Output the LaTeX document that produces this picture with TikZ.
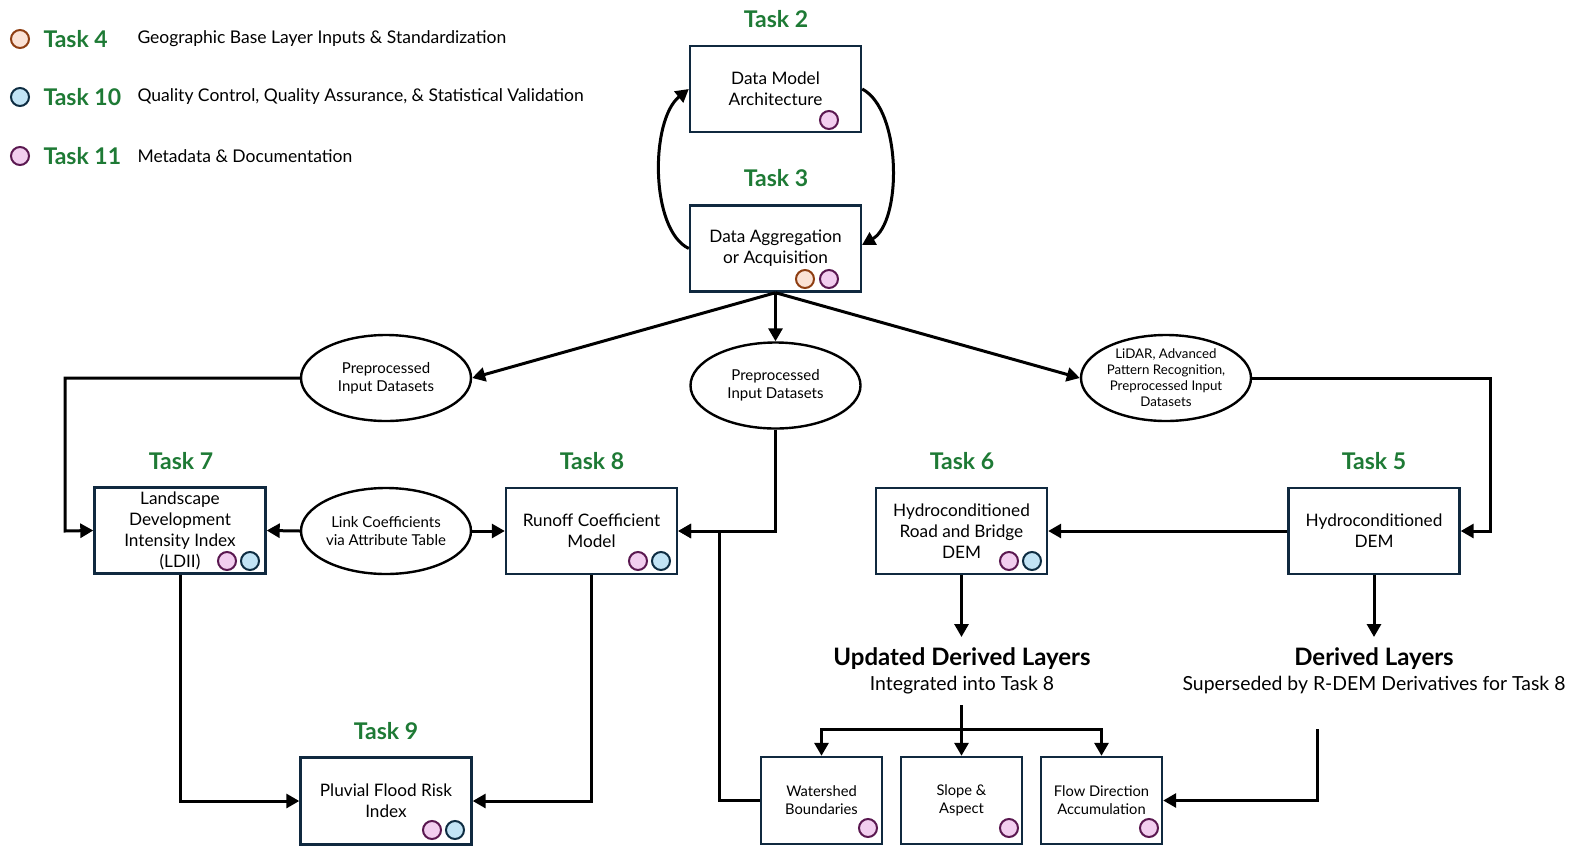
\documentclass[tikz,border=0pt]{standalone}
\usepackage{fontspec}
\setmainfont{Lato}
\usetikzlibrary{arrows.meta,shapes.geometric}
\definecolor{tgreen}{HTML}{1E7A35}
\definecolor{navy}{HTML}{10293F}
\definecolor{orfill}{HTML}{FBE2D5}
\definecolor{ordraw}{HTML}{8E3E12}
\definecolor{blfill}{HTML}{C2E4F5}
\definecolor{bldraw}{HTML}{0E2D42}
\definecolor{pufill}{HTML}{F2CEEF}
\definecolor{pudraw}{HTML}{5A1850}
\tikzset{
  box/.style={draw=navy, line width=2.4pt, minimum width=171pt, minimum height=86pt, align=center, font=\fontsize{17.2}{21}\selectfont, inner sep=2pt},
  sbox/.style={draw=navy, line width=2.4pt, minimum width=121pt, minimum height=87pt, align=center, font=\fontsize{14.7}{18}\selectfont, inner sep=2pt},
  ell/.style={ellipse, draw=black, line width=2.4pt, minimum width=170pt, minimum height=86pt, align=center, inner sep=0pt, font=\fontsize{15}{18}\selectfont},
  tlabel/.style={text=tgreen, font=\fontsize{23}{27}\selectfont\bfseries},
  ldesc/.style={font=\fontsize{17.5}{21}\selectfont, anchor=west},
  conn/.style={line width=3pt, -{Triangle[length=13pt,width=14pt]}},
  ln/.style={line width=3pt},
  odot/.style={circle, draw=ordraw, fill=orfill, line width=2pt, minimum size=18pt, inner sep=0pt},
  bdot/.style={circle, draw=bldraw, fill=blfill, line width=2pt, minimum size=18pt, inner sep=0pt},
  pdot/.style={circle, draw=pudraw, fill=pufill, line width=2pt, minimum size=18pt, inner sep=0pt},
  hd/.style={font=\fontsize{24}{28}\selectfont\bfseries},
  sub/.style={font=\fontsize{19.4}{23}\selectfont},
}
\begin{document}
\begin{tikzpicture}[x=1pt,y=-1pt]
\useasboundingbox (0,0) rectangle (1575,849);

% legend
\node[odot] (lg4) at (20,39) {};
\node[tlabel, anchor=west] (lt4) at (40,39) {Task 4};
\node[ldesc] (ld4) at (134,39) {Geographic Base Layer Inputs \& Standardization};
\node[bdot] (lg10) at (20,97) {};
\node[tlabel, anchor=west] (lt10) at (40,97) {Task 10};
\node[ldesc] (ld10) at (134,97) {Quality Control, Quality Assurance, \& Statistical Validation};
\node[pdot] (lg11) at (20,156) {};
\node[tlabel, anchor=west] (lt11) at (40,156) {Task 11};
\node[ldesc] (ld11) at (134,156) {Metadata \& Documentation};

% task labels
\node[tlabel] (l2) at (776,19) {Task 2};
\node[tlabel] (l3) at (776,178) {Task 3};
\node[tlabel] (l7) at (181,461) {Task 7};
\node[tlabel] (l8) at (592,461) {Task 8};
\node[tlabel] (l6) at (962,461) {Task 6};
\node[tlabel] (l5) at (1374,461) {Task 5};
\node[tlabel] (l9) at (386,731) {Task 9};

% boxes
\node[box] (t2) at (775.5,89) {Data Model\\Architecture};
\node[box] (t3) at (775.5,248.5) {Data Aggregation\\or Acquisition};
\node[box] (t7) at (180,530.5) {Landscape\\Development\\Intensity Index\\(LDII)};
\node[box] (t8) at (591.5,531) {Runoff Coefficient\\Model};
\node[box] (t6) at (961.5,531) {Hydroconditioned\\Road and Bridge\\DEM};
\node[box] (t5) at (1374,531) {Hydroconditioned\\DEM};
\node[box, minimum height=87pt] (t9) at (386,801) {Pluvial Flood Risk\\Index};
\node[sbox] (ws) at (821.5,800.5) {Watershed\\Boundaries};
\node[sbox] (sa) at (961.5,800.5) {Slope \&\\Aspect};
\node[sbox] (fd) at (1101.5,800.5) {Flow Direction\\Accumulation};

% ellipses
\node[ell] (e1) at (386,378) {Preprocessed\\Input Datasets};
\node[ell] (e2) at (775.5,385.5) {Preprocessed\\Input Datasets};
\node[ell, font=\fontsize{13.3}{16}\selectfont] (e3) at (1166,378) {LiDAR, Advanced\\Pattern Recognition,\\Preprocessed Input\\Datasets};
\node[ell] (lk) at (386,531) {Link Coefficients\\via Attribute Table};

% dots
\node[pdot] (d2) at (829,120) {};
\node[odot] (d3a) at (805,279) {};
\node[pdot] (d3b) at (829,279) {};
\node[pdot] (d7a) at (227,561) {};
\node[bdot] (d7b) at (250,561) {};
\node[pdot] (d8a) at (638,561) {};
\node[bdot] (d8b) at (661,561) {};
\node[pdot] (d6a) at (1009,561) {};
\node[bdot] (d6b) at (1032,561) {};
\node[pdot] (d9a) at (432,830) {};
\node[bdot] (d9b) at (455,830) {};
\node[pdot] (dws) at (868,828) {};
\node[pdot] (dsa) at (1009,828) {};
\node[pdot] (dfd) at (1149,828) {};

% derived layer texts
\node[hd] (upd) at (962,659) {Updated Derived Layers};
\node[sub] (updsub) at (962,685) {Integrated into Task 8};
\node[hd] (der) at (1374,659) {Derived Layers};
\node[sub] (dersub) at (1374,685) {Superseded by R-DEM Derivatives for Task 8};

% coordinates
\coordinate (lft) at (65,531);
\coordinate (rgt) at (1490,531);
\coordinate (wsx) at (719,531);
\coordinate (upa) at (961.5,637);
\coordinate (dea) at (1374,637);
\coordinate (top) at (961.5,705);
\coordinate (hM) at (961.5,729);
\coordinate (dtop) at (1317,729);

% connectors
\draw[conn] (t3.west) .. controls (650,230) and (650,120) .. (t2.west);
\draw[conn] (t2.east) .. controls (902,110) and (902,222) .. (862,245);
\draw[conn] (t3.south) -- (e1.east);
\draw[conn] (t3.south) -- (e2.north);
\draw[conn] (t3.south) -- (e3.west);
\draw[conn] (e1.west) -| (lft) -- (t7.west);
\draw[conn] (e3.east) -| (rgt) -- (t5.east);
\draw[conn] (e2.south) |- (t8.east);
\draw[conn] (ws.west) -| (wsx) -- (t8.east);
\draw[conn] (lk.west) -- (t7.east);
\draw[conn] (lk.east) -- (t8.west);
\draw[conn] (t5.west) -- (t6.east);
\draw[conn] (t6.south) -- (upa);
\draw[conn] (t5.south) -- (dea);
\draw[conn] (t7.south) |- (t9.west);
\draw[conn] (t8.south) |- (t9.east);
\draw[ln] (top) -- (hM);
\draw[conn] (hM) -| (ws.north);
\draw[conn] (hM) -| (fd.north);
\draw[conn] (top) -- (sa.north);
\draw[conn] (dtop) |- (fd.east);
\end{tikzpicture}
\end{document}
